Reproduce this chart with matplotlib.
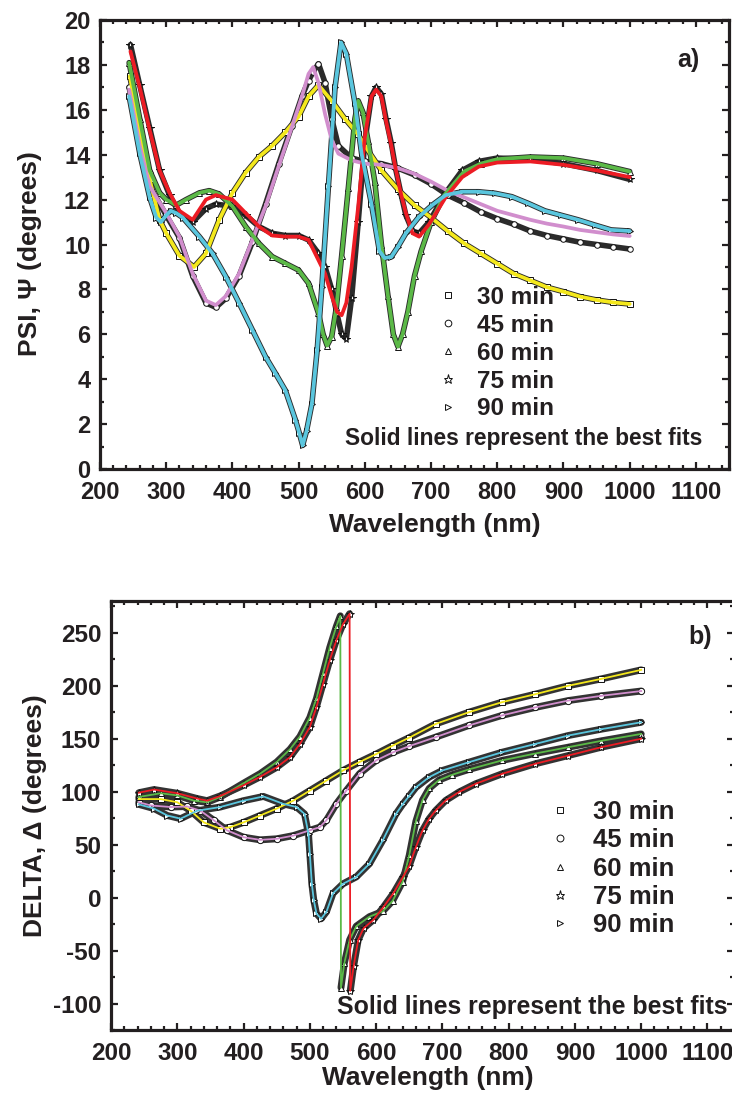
import numpy as np
import matplotlib
matplotlib.use("Agg")
import matplotlib.pyplot as plt
from matplotlib.ticker import MultipleLocator

plt.rcParams['font.family'] = ['Liberation Sans', 'DejaVu Sans']
plt.rcParams['font.weight'] = 'bold'
plt.rcParams['axes.unicode_minus'] = False
INK = '#231f20'

# ---------------- Ellipsometric data: PSI (degrees) ----------------
wl30 = [245, 260, 275, 290, 300, 320, 342, 360, 380, 400, 420, 440, 460, 480, 500, 515, 530, 550, 570, 590,
        600, 625, 650, 675, 700, 725, 750, 775, 800, 825, 850, 875, 900, 925, 950, 975, 1000]
psi30 = [17.5, 15.1, 12.9, 11.1, 10.5, 9.5, 9.0, 9.6, 11.1, 12.3, 13.2, 13.9, 14.4, 15.0, 15.7, 16.6, 17.1, 16.4, 15.6, 14.9,
         14.4, 13.3, 12.45, 11.75, 11.2, 10.6, 10.05, 9.6, 9.15, 8.7, 8.4, 8.1, 7.9, 7.68, 7.53, 7.42, 7.35]

wl45 = [244, 260, 275, 300, 320, 340, 360, 375, 390, 410, 430, 450, 470, 490, 505, 515, 522, 530, 540, 550,
        560, 580, 600, 625, 650, 675, 700, 725, 750, 775, 800, 825, 850, 875, 900, 925, 950, 975, 1000]
psi45_fit = [16.9, 14.4, 12.6, 11.4, 10.35, 8.7, 7.5, 7.3, 7.7, 8.7, 10.2, 11.7, 13.5, 15.25, 16.6, 17.6, 17.9, 17.2, 15.8, 14.65,
             14.05, 13.75, 13.6, 13.55, 13.4, 13.15, 12.8, 12.4, 12.1, 11.8, 11.5, 11.3, 11.1, 10.93, 10.8, 10.65, 10.55, 10.45, 10.38]
psi45_exp = [17.0, 14.6, 12.6, 11.3, 10.3, 8.6, 7.4, 7.2, 7.6, 8.6, 10.1, 11.8, 13.6, 15.3, 16.6, 17.3, 17.7, 18.05, 17.2, 15.6,
             14.4, 13.85, 13.7, 13.6, 13.4, 13.1, 12.7, 12.2, 11.85, 11.45, 11.15, 10.9, 10.6, 10.4, 10.25, 10.1, 10.0, 9.9, 9.8]

wl60 = [244, 260, 275, 290, 300, 315, 330, 350, 365, 380, 400, 420, 440, 460, 480, 500, 515, 530, 537, 543,
        550, 557, 565, 575, 585, 590, 597, 605, 615, 625, 635, 643, 650, 657, 665, 675, 685, 700, 720, 750,
        775, 800, 850, 900, 950, 1000]
psi60 = [18.1, 15.6, 13.3, 12.3, 12.0, 11.75, 12.0, 12.3, 12.4, 12.25, 11.7, 10.8, 10.05, 9.46, 9.16, 8.86, 8.27, 6.93, 6.0, 5.5,
         5.9, 7.2, 9.5, 12.5, 15.6, 16.4, 15.9, 14.6, 12.8, 10.0, 7.7, 6.0, 5.45, 6.0, 7.0, 8.6, 9.7, 11.0, 12.2, 13.25,
         13.6, 13.8, 13.9, 13.85, 13.6, 13.25]

wl75 = [246, 260, 275, 290, 305, 320, 340, 360, 375, 400, 420, 440, 460, 480, 500, 515, 530, 540, 550, 558,
        565, 572, 580, 590, 600, 610, 617, 625, 632, 640, 647, 655, 662, 672, 682, 697, 722, 747, 772, 800,
        850, 900, 950, 1000]
psi75_fit = [18.6, 17.0, 15.1, 13.3, 12.3, 11.5, 11.1, 12.0, 12.2, 12.0, 11.4, 10.8, 10.4, 10.35, 10.35, 10.2, 9.3, 8.7, 7.7, 7.0,
             6.85, 7.4, 9.0, 11.7, 14.8, 16.6, 16.9, 16.6, 15.5, 14.4, 13.3, 12.2, 11.4, 10.5, 10.35, 10.9, 12.1, 13.0, 13.47, 13.65,
             13.7, 13.55, 13.3, 13.0]
psi75_exp = [18.9, 17.1, 15.2, 13.3, 12.2, 11.4, 11.0, 11.6, 11.8, 11.7, 11.3, 10.8, 10.5, 10.4, 10.4, 10.2, 9.6, 9.0, 8.0, 6.9,
             6.0, 5.8, 7.6, 11.0, 14.6, 16.6, 17.0, 16.7, 15.6, 14.5, 13.3, 12.2, 11.3, 10.6, 10.5, 11.0, 12.3, 13.3, 13.7, 13.85,
             13.8, 13.6, 13.3, 12.9]

wl90 = [244, 260, 275, 285, 292, 300, 307, 315, 325, 350, 370, 390, 410, 430, 450, 465, 480, 495, 501, 506,
        512, 520, 528, 535, 545, 555, 564, 572, 585, 595, 610, 622, 630, 640, 650, 662, 682, 702, 722, 747,
        772, 797, 822, 847, 872, 897, 922, 947, 972, 1000]
psi90 = [16.6, 14.06, 12.1, 11.2, 11.0, 11.3, 11.5, 11.4, 11.2, 10.35, 9.6, 8.57, 7.4, 6.2, 5.0, 4.26, 3.5, 2.2, 1.6, 1.05,
         1.7, 2.9, 5.3, 8.1, 12.6, 17.0, 19.0, 18.5, 16.3, 14.06, 11.8, 9.7, 9.4, 9.45, 9.9, 10.5, 11.24, 11.76, 12.2, 12.35,
         12.35, 12.28, 12.13, 11.83, 11.5, 11.3, 11.1, 10.87, 10.65, 10.6]

# ---------------- Ellipsometric data: DELTA (degrees) ----------------
wl30d = [242, 275, 300, 320, 340, 365, 380, 400, 425, 450, 475, 500, 525, 550, 575, 600, 625, 650, 690, 740,
         790, 840, 890, 940, 1000]
d30 = [93, 93, 90, 82, 71, 65, 66.5, 71, 77.5, 84, 91.5, 101, 110.5, 120, 128, 135.5, 143.5, 151, 164, 175,
       184.5, 192, 200, 206.5, 215]

wl45d = [242, 260, 290, 315, 335, 355, 375, 400, 425, 450, 475, 500, 515, 525, 540, 555, 575, 600, 625, 650,
         690, 740, 790, 840, 890, 940, 1000]
d45 = [90, 87, 85.5, 86, 82, 73, 63.5, 57, 54.5, 55.5, 58.5, 63.5, 66.5, 73, 88.5, 101, 117, 129.5, 137, 143,
       151.5, 162.5, 172, 179.5, 186, 190.5, 195]

wl60d = [242, 275, 300, 325, 345, 365, 400, 425, 450, 470, 485, 500, 510, 520, 530, 540, 546, 547, 552, 560,
         570, 590, 610, 625, 640, 650, 660, 670, 680, 695, 715, 740, 790, 840, 890, 940, 1000]
d60 = [95, 98.5, 96.5, 91.5, 90, 95, 108, 117, 128, 140, 152, 170, 188, 212, 236, 256, 266, -85, -62, -40,
       -27, -18, -13, -3, 15, 40, 72, 92, 103, 111, 116, 121, 129.5, 136, 142, 148, 154.5]

wl75d = [242, 265, 300, 330, 345, 365, 400, 425, 450, 470, 485, 500, 510, 520, 530, 540, 550, 560, 561, 566,
         573, 581, 596, 611, 626, 640, 650, 660, 670, 680, 690, 705, 725, 750, 790, 840, 890, 940, 1000]
d75 = [99, 102, 98.5, 93.5, 91.5, 96, 106, 114, 123, 132.5, 145, 161, 180, 202, 224, 243, 258, 268, -88, -65,
       -40, -29, -21, -9, 4, 19, 30, 47.7, 63.4, 74.4, 82.3, 91.7, 99.6, 107.4, 116.8, 126.3, 134.1, 142, 150]

wl90d = [242, 265, 285, 305, 330, 365, 400, 430, 460, 480, 492, 498, 500, 503, 506, 510, 517, 525, 535, 550,
         570, 590, 610, 630, 640, 650, 660, 680, 700, 740, 790, 840, 890, 940, 1000]
d90 = [88, 84, 77.5, 74.5, 82, 85.5, 91.5, 95.5, 88.5, 85.5, 79, 60, 41.5, 13, -2.5, -15, -20, -13.5, 4, 13,
       19.5, 32, 54, 79, 88, 96, 104, 113.7, 120, 127.8, 137.2, 145, 153, 159, 165.5]

labels = ['30 min', '45 min', '60 min', '75 min', '90 min']
markers = ['s', 'o', '^', '*', '>']
colors = ['#f4e81c', '#d18ecd', '#5bb947', '#ec1c24', '#5ac6de']

psi_sets = [(wl30, psi30, psi30), (wl45, psi45_exp, psi45_fit), (wl60, psi60, psi60),
            (wl75, psi75_exp, psi75_fit), (wl90, psi90, psi90)]
delta_sets = [(wl30d, d30, d30), (wl45d, d45, d45), (wl60d, d60, d60),
              (wl75d, d75, d75), (wl90d, d90, d90)]


def broken(x, y, gap=150):
    """Split a trace where Delta wraps around so no connecting segment is drawn."""
    x = np.asarray(x, float)
    y = np.asarray(y, float)
    cut = np.where(np.abs(np.diff(y)) > gap)[0]
    return np.insert(x, cut + 1, np.nan), np.insert(y, cut + 1, np.nan)


def style_axes(ax, xmax, ylim, ymaj, ymin, fs):
    ax.set_xlim(200, xmax)
    ax.set_ylim(*ylim)
    ax.xaxis.set_major_locator(MultipleLocator(100))
    ax.xaxis.set_minor_locator(MultipleLocator(20))
    ax.yaxis.set_major_locator(MultipleLocator(ymaj))
    ax.yaxis.set_minor_locator(MultipleLocator(ymin))
    ax.tick_params(which='both', direction='in', top=True, right=True, width=1.6, colors=INK)
    ax.tick_params(which='major', length=5, labelsize=fs)
    ax.tick_params(which='minor', length=3)
    ax.tick_params(axis='x', which='major', pad=8.5)
    ax.tick_params(axis='y', which='major', pad=7)
    for s in ax.spines.values():
        s.set_linewidth(2.3)
        s.set_color(INK)
    for lab in ax.get_xticklabels() + ax.get_yticklabels():
        lab.set_fontweight('bold')


fig = plt.figure(figsize=(7.32, 10.95), dpi=100)

# ---------------- (a) PSI ----------------
ax1 = fig.add_axes([100 / 732, 1 - 469 / 1095, 629 / 732, 449 / 1095])
handles = []
for (x, yexp, yfit), lab, mk, c in zip(psi_sets, labels, markers, colors):
    ax1.plot(x, yexp, color='#2b2b2b', lw=4.0, solid_capstyle='round', zorder=2)
    h, = ax1.plot(x, yexp, ls='none', marker=mk, ms=4 if mk != '*' else 5.5, mfc='white', mec='#111111',
                  mew=0.7, zorder=3, label=lab)
    handles.append(h)
    ax1.plot(x, yfit, color=c, lw=2.7, solid_capstyle='round', zorder=4)
style_axes(ax1, 1150, (0, 20), 2, 1, 17)
ax1.set_xlabel('Wavelength (nm)', fontsize=19, fontweight='bold', color=INK)
ax1.set_ylabel('PSI, \u03a8 (degrees)', fontsize=19, fontweight='bold', color=INK)
ax1.xaxis.set_label_coords(0.533, -0.098)
ax1.yaxis.set_label_coords(-0.092, 0.48)
ax1.text(0.936, 0.911, 'a)', transform=ax1.transAxes, fontsize=18, fontweight='bold',
         ha='center', va='center', color=INK)
ax1.text(0.39, 0.069, 'Solid lines represent the best fits', transform=ax1.transAxes,
         fontsize=16.4, fontweight='bold', ha='left', va='center', color=INK)
leg1 = ax1.legend(handles=handles, loc='upper left', bbox_to_anchor=(436 / 732, 1 - 286 / 1095),
                  bbox_transform=fig.transFigure, frameon=False, fontsize=17.5, handlelength=1.0,
                  handletextpad=0.7, labelspacing=0.2, borderpad=0, borderaxespad=0, markerscale=1.2)
for t in leg1.get_texts():
    t.set_fontweight('bold')
    t.set_color(INK)

# ---------------- (b) DELTA ----------------
ax2 = fig.add_axes([111 / 732, 1 - 1030 / 1095, 623 / 732, 429 / 1095])
handles2 = []
for (x, yexp, yfit), lab, mk, c in zip(delta_sets, labels, markers, colors):
    bx, by = broken(x, yexp)
    ax2.plot(bx, by, color='#333333', lw=5.0, solid_capstyle='round', zorder=2)
    h, = ax2.plot(x, yexp, ls='none', marker=mk, ms=4.5 if mk != '*' else 6, mfc='white', mec='#111111',
                  mew=0.7, zorder=3, label=lab)
    handles2.append(h)
    ax2.plot(x, yfit, color=c, lw=1.3, zorder=4)
style_axes(ax2, 1140, (-125, 280), 50, 25, 17.5)
ax2.set_xlabel('Wavelength (nm)', fontsize=19, fontweight='bold', color=INK)
ax2.set_ylabel('DELTA, \u0394 (degrees)', fontsize=19, fontweight='bold', color=INK)
ax2.xaxis.set_label_coords(0.509, -0.084)
ax2.yaxis.set_label_coords(-0.103, 0.5)
ax2.text(0.945, 0.916, 'b)', transform=ax2.transAxes, fontsize=18, fontweight='bold',
         ha='center', va='center', color=INK)
ax2.text(0.362, 0.054, 'Solid lines represent the best fits', transform=ax2.transAxes,
         fontsize=17.9, fontweight='bold', ha='left', va='center', color=INK, clip_on=False)
leg2 = ax2.legend(handles=handles2, loc='upper left', bbox_to_anchor=(547 / 732, 1 - 800 / 1095),
                  bbox_transform=fig.transFigure, frameon=False, fontsize=18.5, handlelength=1.0,
                  handletextpad=0.8, labelspacing=0.17, borderpad=0, borderaxespad=0, markerscale=1.1)
for t in leg2.get_texts():
    t.set_fontweight('bold')
    t.set_color(INK)

fig.savefig('out.png', dpi=100)
